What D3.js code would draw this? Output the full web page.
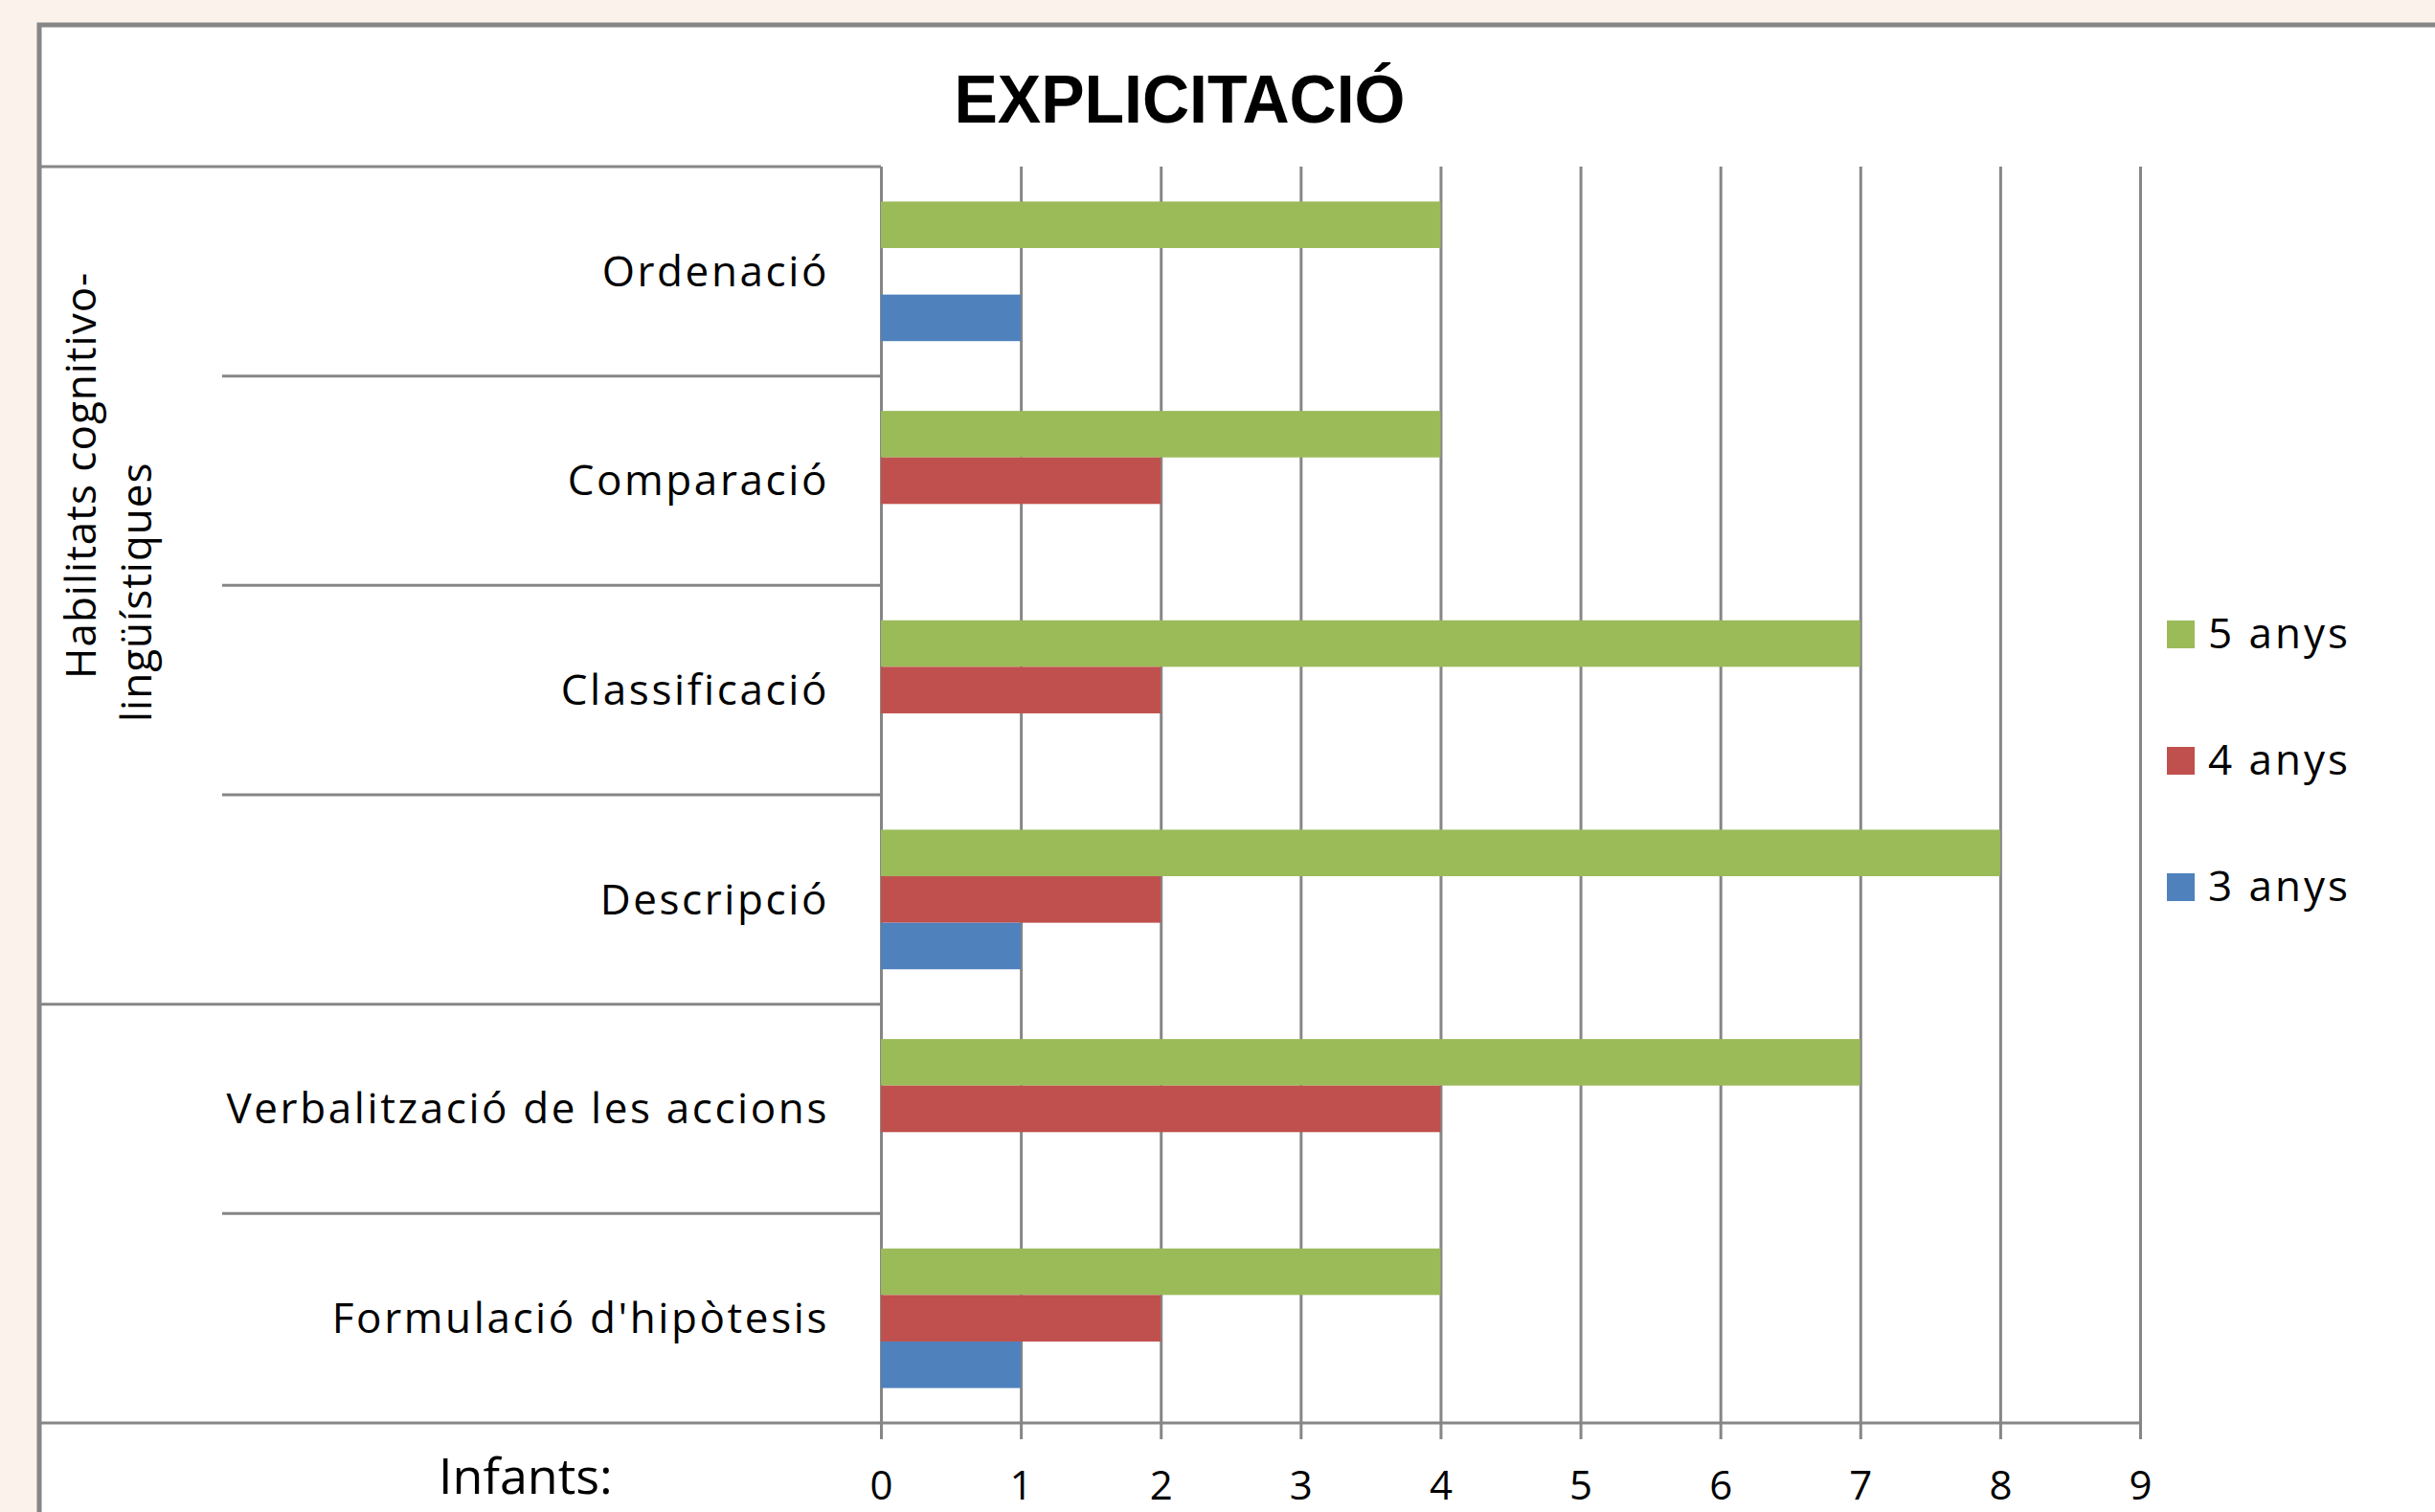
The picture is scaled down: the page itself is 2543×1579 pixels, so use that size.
<!DOCTYPE html>
<html>
<head>
<meta charset="utf-8">
<script src="https://cdn.jsdelivr.net/npm/d3@7"></script>
<style>
  body { margin: 0; background: #fbf2ec; }
  svg { display: block; }
</style>
</head>
<body>
<svg id="chart"></svg>
<script>
const categories = [
  "Ordenació",
  "Comparació",
  "Classificació",
  "Descripció",
  "Verbalització de les accions",
  "Formulació d'hipòtesis",
];
const series = ["5 anys", "4 anys", "3 anys"];
const values5 = [4, 4, 7, 8, 7, 4];
const values4 = [0, 2, 2, 2, 4, 2];
const values3 = [1, 0, 0, 1, 0, 1];
const seriesColors = ["#9bbb59", "#c0504d", "#4f81bd"];
const xTicks = [0, 1, 2, 3, 4, 5, 6, 7, 8, 9];
const groupLabel = ["Habilitats cognitivo-", "lingüístiques"];
const titleText = "EXPLICITACIÓ";
const axisTitle = "Infants:";

const width = 2543;
const height = 1579;
const frameLeft = 41;
const plotTop = 174;
const plotBottom = 1486;
const grey = "#868686";
const font = "'Open Sans', 'Noto Sans', sans-serif";

const rows = categories.map((c, i) => ({
  category: c,
  values: [values5[i], values4[i], values3[i]],
}));

const svg = d3.select("#chart").attr("width", width).attr("height", height);

// chart frame
svg
  .append("rect")
  .attr("x", frameLeft)
  .attr("y", 26)
  .attr("width", width + 20)
  .attr("height", height + 20)
  .attr("fill", "#fff")
  .attr("stroke", grey)
  .attr("stroke-width", 5);

// Title
svg
  .append("text")
  .attr("x", 1232)
  .attr("y", 128)
  .attr("text-anchor", "middle")
  .attr("font-family", "'Liberation Sans', Arial, sans-serif")
  .attr("font-weight", "bold")
  .attr("font-size", 70)
  .attr("textLength", 471)
  .attr("lengthAdjust", "spacingAndGlyphs")
  .text(titleText);

// Scales
const x = d3.scaleLinear().domain([0, 9]).range([920, 2235]);

const y0 = d3.scaleBand().domain(categories).range([plotTop, plotBottom]);

const y1 = d3
  .scaleBand()
  .domain(series)
  .range([0, y0.bandwidth()])
  .paddingInner(0)
  .paddingOuter(0.75);

const color = d3.scaleOrdinal().domain(series).range(seriesColors);

// Gridlines (behind bars)
svg
  .append("g")
  .attr("class", "grid")
  .attr("transform", `translate(0, ${plotBottom})`)
  .call(
    d3.axisBottom(x).tickValues(xTicks).tickSize(-(plotBottom - plotTop)).tickFormat("")
  )
  .call((g) => g.select(".domain").remove())
  .call((g) => g.selectAll("line").attr("stroke", grey).attr("stroke-width", 3));

// Table lines on the left
const lines = svg.append("g").attr("stroke", grey).attr("stroke-width", 3);
lines
  .append("line")
  .attr("x1", frameLeft)
  .attr("x2", x(0))
  .attr("y1", plotTop)
  .attr("y2", plotTop);
categories.slice(1).forEach((c, i) => {
  lines
    .append("line")
    .attr("x1", i === 3 ? frameLeft : 232)
    .attr("x2", x(0))
    .attr("y1", y0(c))
    .attr("y2", y0(c));
});
lines
  .append("line")
  .attr("x1", frameLeft)
  .attr("x2", x(9))
  .attr("y1", plotBottom)
  .attr("y2", plotBottom);

// Bars
const groups = svg
  .selectAll(".cat")
  .data(rows)
  .enter()
  .append("g")
  .attr("class", "cat")
  .attr("transform", (d) => `translate(0, ${y0(d.category)})`);

groups
  .selectAll("rect")
  .data((d) => series.map((s, i) => ({ key: s, value: d.values[i] })))
  .enter()
  .append("rect")
  .attr("x", x(0))
  .attr("y", (d) => y1(d.key))
  .attr("width", (d) => x(d.value) - x(0))
  .attr("height", y1.bandwidth())
  .attr("fill", (d) => color(d.key));

// X axis ticks and labels
const xAxis = svg
  .append("g")
  .attr("transform", `translate(0, ${plotBottom})`)
  .call(d3.axisBottom(x).tickValues(xTicks).tickSize(17).tickPadding(33).tickFormat(d3.format("d")));
xAxis.select(".domain").remove();
xAxis.selectAll("line").attr("stroke", grey).attr("stroke-width", 3);
xAxis
  .selectAll("text")
  .attr("font-family", font)
  .attr("font-size", 42)
  .attr("fill", "#000");

svg
  .append("text")
  .attr("x", 458)
  .attr("y", 1560)
  .attr("font-family", font)
  .attr("font-size", 52)
  .text(axisTitle);

// Category labels
svg
  .selectAll(".cat-label")
  .data(categories)
  .enter()
  .append("text")
  .attr("class", "cat-label")
  .attr("x", 866)
  .attr("y", (d) => y0(d) + y0.bandwidth() / 2)
  .attr("dy", "0.35em")
  .attr("text-anchor", "end")
  .attr("font-family", font)
  .attr("font-size", 44)
  .attr("letter-spacing", 2.6)
  .text((d) => d);

// Group label (rotated, two lines)
const groupPos = [
  [100, 709],
  [158, 754],
];
svg
  .selectAll(".group-label")
  .data(groupLabel)
  .enter()
  .append("text")
  .attr("class", "group-label")
  .attr("transform", (d, i) => `translate(${groupPos[i][0]}, ${groupPos[i][1]}) rotate(-90)`)
  .attr("font-family", font)
  .attr("font-size", 44)
  .attr("letter-spacing", 1)
  .text((d) => d);

// Legend
const legend = svg
  .append("g")
  .selectAll("g")
  .data(series)
  .enter()
  .append("g")
  .attr("transform", (d, i) => `translate(2263, ${662 + i * 132})`);

legend
  .append("rect")
  .attr("x", 0)
  .attr("y", -14)
  .attr("width", 29)
  .attr("height", 29)
  .attr("fill", (d) => color(d));

legend
  .append("text")
  .attr("x", 43)
  .attr("y", 0)
  .attr("dy", "0.35em")
  .attr("font-family", font)
  .attr("font-size", 44)
  .attr("letter-spacing", 3)
  .text((d) => d);
</script>
</body>
</html>
